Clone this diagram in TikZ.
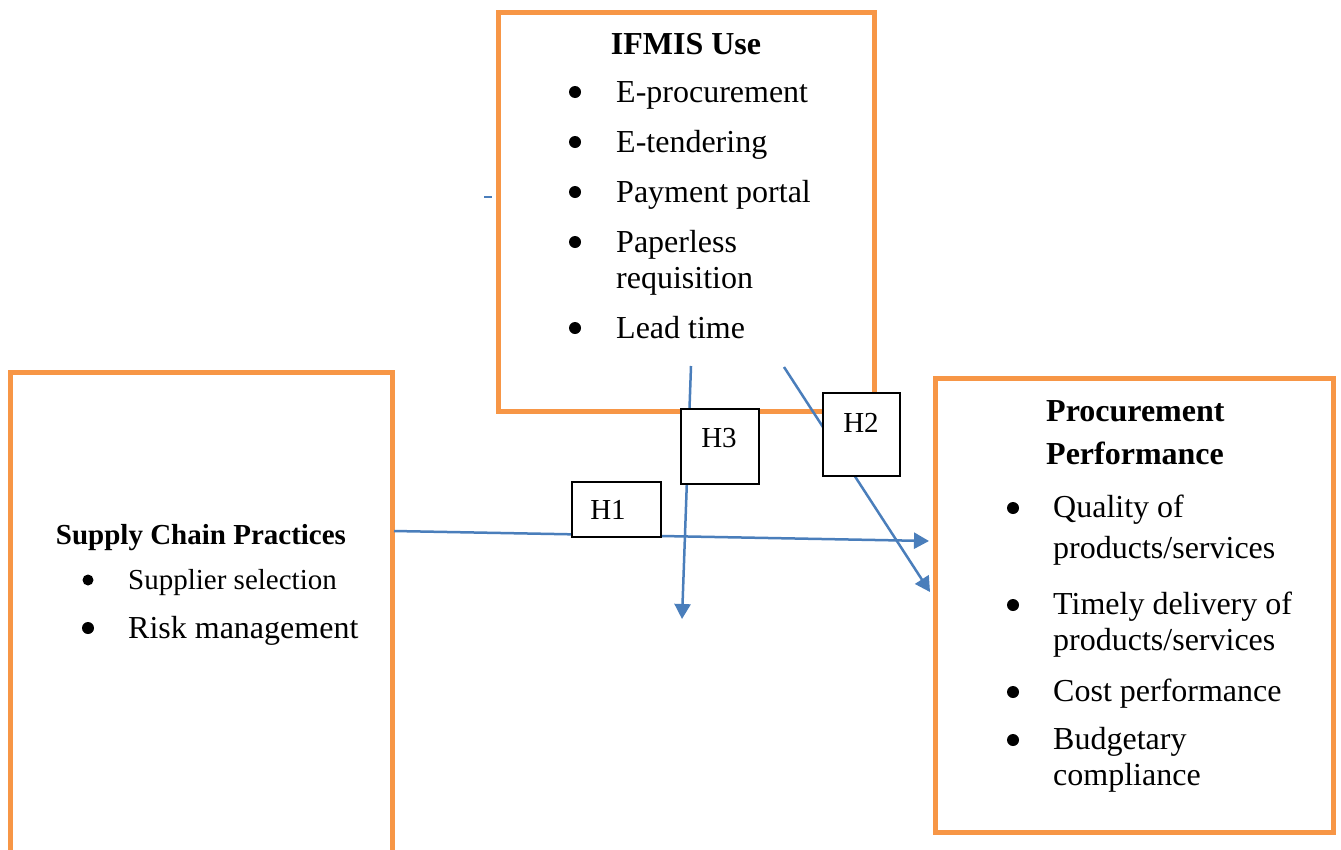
\documentclass[tikz,border=0pt]{standalone}
\usepackage{fontspec}
\setmainfont{Liberation Serif}
\usetikzlibrary{arrows.meta}
\definecolor{boxorange}{HTML}{F79646}
\definecolor{linkblue}{HTML}{4A7EBB}
\tikzset{
  obox/.style={draw=boxorange, line width=5pt, fill=white, inner sep=0pt},
  hbox/.style={draw=black, line width=1.3pt, fill=white, inner sep=0pt},
  link/.style={draw=linkblue, line width=2.5pt, -{Triangle[length=15pt,width=16pt]}},
  plainlink/.style={draw=linkblue, line width=2.5pt},
  item/.style={anchor=base west, inner sep=0pt, font=\fontsize{32}{36}\selectfont},
  smallitem/.style={anchor=base west, inner sep=0pt, font=\fontsize{29}{34}\selectfont},
  head/.style={anchor=base, inner sep=0pt, font=\fontsize{32}{36}\selectfont\bfseries},
  bul/.style={circle, fill=black, inner sep=0pt, minimum size=12pt},
  hlabel/.style={anchor=base, inner sep=0pt, font=\fontsize{29}{34}\selectfont},
}
\begin{document}
\begin{tikzpicture}[x=1pt,y=-1pt]
\clip (0,0) rectangle (1341,849);
\fill[white] (0,0) rectangle (1341,849);
% boxes
\node[obox, minimum width=376pt, minimum height=399pt] (ifmis) at (686,211.5) {};
\node[obox, minimum width=382pt, minimum height=520pt] (scp) at (201,632) {};
\node[obox, minimum width=398pt, minimum height=454pt] (pp) at (1134,605) {};
% connectors
\coordinate (h1s) at (394,531);
\coordinate (h1e) at (929,541);
\coordinate (h3s) at (691,366);
\coordinate (h3e) at (682,619);
\coordinate (h2s) at (784,367);
\coordinate (h2e) at (930,592);
\coordinate (ds) at (484,197);
\coordinate (de) at (492,197);
\draw[link] (h1s) -- (h1e);
\draw[link] (h3s) -- (h3e);
\draw[link] (h2s) -- (h2e);
\draw[plainlink] (ds) -- (de);
% hypothesis boxes
\node[hbox, minimum width=78pt, minimum height=75pt] (H3) at (720,446.5) {};
\node[hlabel] (H3t) at (719,447) {H3};
\node[hbox, minimum width=77pt, minimum height=83pt] (H2) at (861.5,434.5) {};
\node[hlabel] (H2t) at (861,432) {H2};
\node[hbox, minimum width=89pt, minimum height=55pt] (H1) at (616.5,509.5) {};
\node[hlabel] (H1t) at (608,519) {H1};
% IFMIS text
\node[head] (ifh) at (686,54) {IFMIS Use};
\node[bul] (ib1) at (575,92) {};
\node[item] (it1) at (616,102) {E-procurement};
\node[bul] (ib2) at (575,142) {};
\node[item] (it2) at (616,152) {E-tendering};
\node[bul] (ib3) at (575,192) {};
\node[item] (it3) at (616,202) {Payment portal};
\node[bul] (ib4) at (575,242) {};
\node[item] (it4) at (616,252) {Paperless};
\node[item] (it4b) at (616,288) {requisition};
\node[bul] (ib5) at (575,328) {};
\node[item] (it5) at (616,338) {Lead time};
% Supply chain text
\node[head, font=\fontsize{29}{34}\selectfont\bfseries] (sch) at (201,544) {Supply Chain Practices};
\node[bul, minimum size=11pt] (sb1) at (88,580) {};
\node[smallitem] (st1) at (128,589) {Supplier selection};
\node[bul] (sb2) at (88,628) {};
\node[item] (st2) at (128,638) {Risk management};
% Procurement text
\node[head, anchor=base west] (pph1) at (1046,421) {Procurement};
\node[head, anchor=base west] (pph2) at (1046,464) {Performance};
\node[bul] (pb1) at (1013,508) {};
\node[item] (pt1) at (1053,517) {Quality of};
\node[item] (pt1b) at (1053,558) {products/services};
\node[bul] (pb2) at (1013,605) {};
\node[item] (pt2) at (1053,614) {Timely delivery of};
\node[item] (pt2b) at (1053,650) {products/services};
\node[bul] (pb3) at (1013,692) {};
\node[item] (pt3) at (1053,701) {Cost performance};
\node[bul] (pb4) at (1013,740) {};
\node[item] (pt4) at (1053,749) {Budgetary};
\node[item] (pt4b) at (1053,785) {compliance};
\end{tikzpicture}
\end{document}
